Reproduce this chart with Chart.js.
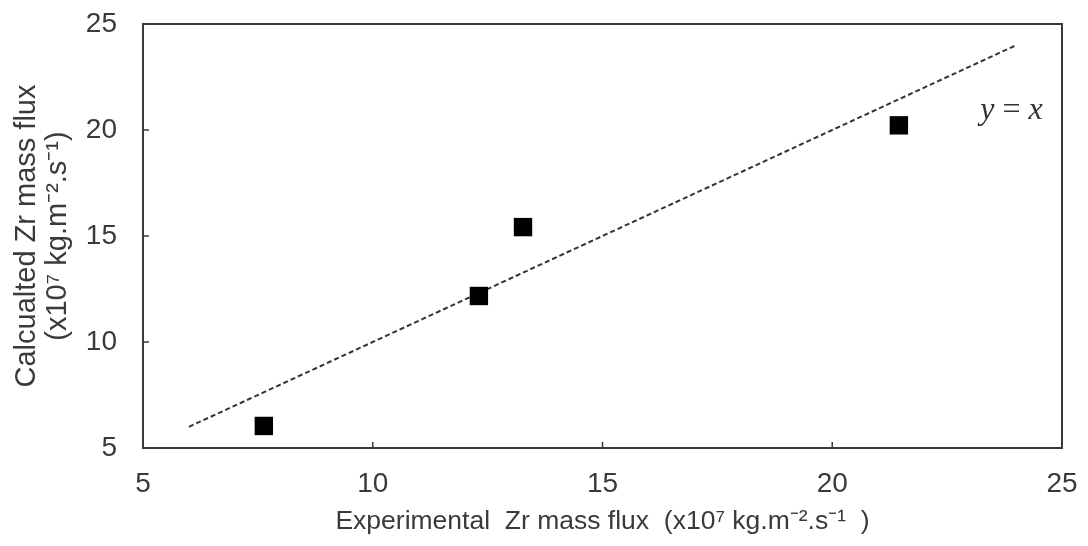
<!DOCTYPE html>
<html>
<head>
<meta charset="utf-8">
<script src="https://cdn.jsdelivr.net/npm/chart.js@4/dist/chart.umd.min.js"></script>
<style>
  html, body { margin: 0; padding: 0; background: #fff; }
  .wrap { width: 1088px; height: 546px; position: relative; }
</style>
</head>
<body>
<div class="wrap"><canvas id="chart"></canvas></div>
<script>
const experimental = [7.63, 12.31, 13.27, 21.45];
const calculated = [6.04, 12.17, 15.42, 20.22];

const refX = [6, 24];
const refY = [6, 24];

const xTicks = [5, 10, 15, 20, 25];
const yTicks = [5, 10, 15, 20, 25];

const xTitle = "Experimental  Zr mass flux  (x10\u2077 kg.m\u207B\u00B2.s\u207B\u00B9  )";
const yTitle = ["Calcualted Zr mass flux", "(x10\u2077 kg.m\u207B\u00B2.s\u207B\u00B9)"];

const textColor = "#3a3a3a";
const frameColor = "#3a3a3a";

const ctx = document.getElementById("chart");

// box round the plot + inward tick marks + the y = x label
const frame = {
  id: "frame",
  afterDraw(chart) {
    const { ctx, chartArea: a, scales } = chart;
    ctx.save();
    ctx.strokeStyle = frameColor;
    ctx.lineWidth = 2;
    ctx.strokeRect(a.left, a.top, a.right - a.left, a.bottom - a.top);

    ctx.lineWidth = 1.5;
    ctx.beginPath();
    xTicks.slice(1, -1).forEach((v) => {
      const px = scales.x.getPixelForValue(v);
      ctx.moveTo(px, a.bottom);
      ctx.lineTo(px, a.bottom - 6);
    });
    yTicks.slice(1, -1).forEach((v) => {
      const py = scales.y.getPixelForValue(v);
      ctx.moveTo(a.left, py);
      ctx.lineTo(a.left + 6, py);
    });
    ctx.stroke();

    // y = x
    const lx = scales.x.getPixelForValue(23.9);
    const ly = scales.y.getPixelForValue(20.9);
    ctx.fillStyle = "#333";
    ctx.textBaseline = "middle";
    const italic = "italic 32px 'Liberation Serif'";
    const upright = "32px 'Liberation Serif'";
    const parts = [["y", italic], [" = ", upright], ["x", italic]];
    let w = 0;
    parts.forEach(([t, f]) => { ctx.font = f; w += ctx.measureText(t).width; });
    let cx = lx - w / 2;
    parts.forEach(([t, f]) => {
      ctx.font = f;
      ctx.fillText(t, cx, ly);
      cx += ctx.measureText(t).width;
    });
    ctx.restore();
  },
};

new Chart(ctx, {
  type: "scatter",
  data: {
    datasets: [
      {
        data: experimental.map((x, i) => ({ x, y: calculated[i] })),
        pointStyle: "rect",
        pointRadius: 13,
        pointHoverRadius: 13,
        backgroundColor: "#000",
        borderColor: "#000",
        borderWidth: 0,
      },
      {
        data: refX.map((x, i) => ({ x, y: refY[i] })),
        showLine: true,
        borderColor: "#333",
        borderWidth: 2,
        borderDash: [5, 3],
        pointRadius: 0,
        pointHoverRadius: 0,
      },
    ],
  },
  options: {
    responsive: true,
    maintainAspectRatio: false,
    animation: false,
    layout: {
      padding: { left: 0, right: 26, top: 24, bottom: 0 },
    },
    plugins: {
      legend: { display: false },
      tooltip: { enabled: false },
    },
    scales: {
      x: {
        type: "linear",
        min: 5,
        max: 25,
        border: { display: false },
        grid: { display: false },
        afterBuildTicks(scale) {
          scale.ticks = xTicks.map((value) => ({ value }));
        },
        afterFit(scale) {
          scale.height = 98;
          scale.paddingLeft = 0;
          scale.paddingRight = 0;
        },
        ticks: {
          color: textColor,
          font: { family: "Liberation Sans", size: 28 },
          padding: 11,
          maxRotation: 0,
        },
        title: {
          display: true,
          text: xTitle,
          color: textColor,
          font: { family: "Liberation Sans", size: 26.5 },
          padding: { top: 0, bottom: 8 },
        },
      },
      y: {
        type: "linear",
        min: 5,
        max: 25,
        border: { display: false },
        grid: { display: false },
        afterBuildTicks(scale) {
          scale.ticks = yTicks.map((value) => ({ value }));
        },
        afterFit(scale) {
          scale.width = 143;
          scale.paddingTop = 0;
          scale.paddingBottom = 0;
        },
        ticks: {
          color: textColor,
          font: { family: "Liberation Sans", size: 28 },
          padding: 18,
        },
        title: {
          display: true,
          text: yTitle,
          color: textColor,
          font: { family: "Liberation Sans", size: 29, lineHeight: 1.05 },
          padding: { top: 12, bottom: 0 },
        },
      },
    },
  },
  plugins: [frame],
});
</script>
</body>
</html>
